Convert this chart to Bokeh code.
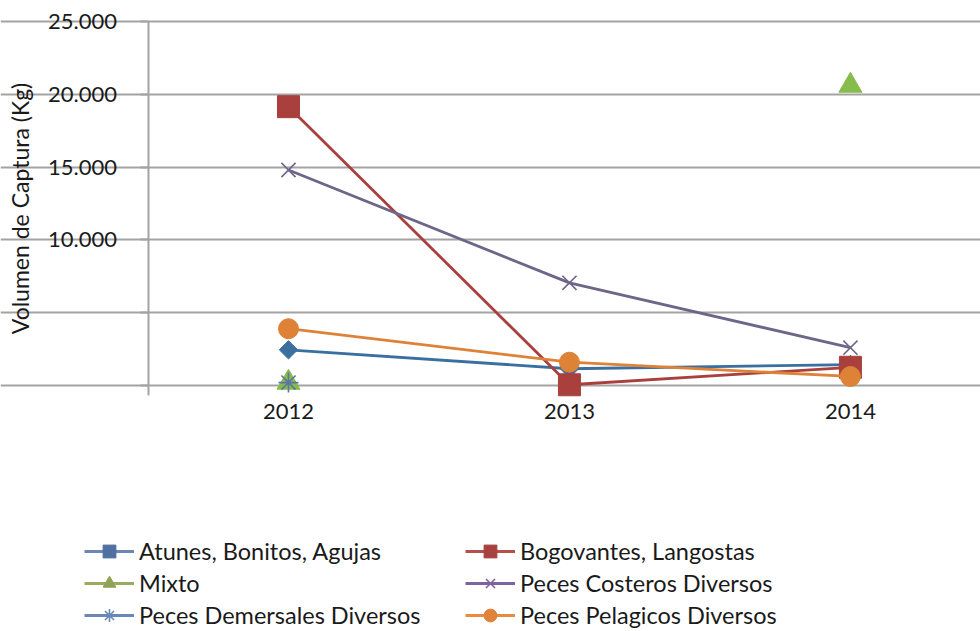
import math
from bokeh.plotting import figure
from bokeh.models import (Range1d, FixedTicker, Legend, LegendItem, LinearAxis, Grid)
from bokeh.embed import file_html
from bokeh.resources import INLINE

nan = float("nan")

# ---- data ----
years = [2012, 2013, 2014]
year_labels = ["2012", "2013", "2014"]
atunes = [2450, 1150, 1440]
bogovantes = [19150, 50, 1250]
mixto = [200, nan, 20600]
costeros = [14800, 7050, 2600]
demersales = [200, nan, nan]
pelagicos = [3900, 1600, 620]
y_ticks = [0, 5000, 10000, 15000, 20000, 25000]
y_tick_labels = ["", "", "10.000", "15.000", "20.000", "25.000"]

FONT = "Lato"
GRID = "#A3A3A3"
TXT = "#1a1a1a"

# axis geometry (data units)
X_LEFT = 2011.5          # category boundary where the value axis sits
X_END = 2014.463
Y_AXIS_BOTTOM = -690     # value axis line runs a little below 0
Y_TOP = 25000

p = figure(width=980, height=631, output_backend="svg", toolbar_location=None,
           x_range=Range1d(2010.975, X_END), y_range=Range1d(-16896, 26442),
           min_border=0, x_axis_type=None, y_axis_type=None)
p.outline_line_color = None
p.background_fill_color = "white"

# y axis
yax = LinearAxis(ticker=FixedTicker(ticks=y_ticks), fixed_location=X_LEFT,
                 bounds=(Y_AXIS_BOTTOM, Y_TOP),
                 major_label_overrides={t: l for t, l in zip(y_ticks, y_tick_labels)})
yax.axis_label = "Volumen de Captura (Kg)"
yax.axis_label_text_font = FONT
yax.axis_label_text_font_size = "23px"
yax.axis_label_text_font_style = "normal"
yax.axis_label_text_color = TXT
yax.axis_label_standoff = 12
yax.major_label_text_font = FONT
yax.major_label_text_font_size = "22px"
yax.major_label_text_color = TXT
yax.major_label_standoff = 23
yax.major_tick_out = 8
yax.major_tick_in = 0
yax.minor_tick_out = 0
yax.minor_tick_in = 0
yax.major_tick_line_color = GRID
yax.major_tick_line_width = 2
yax.axis_line_color = GRID
yax.axis_line_width = 2
p.add_layout(yax, "left")

# x axis (labels only)
xax = LinearAxis(ticker=FixedTicker(ticks=years), fixed_location=Y_AXIS_BOTTOM,
                 major_label_overrides={y: l for y, l in zip(years, year_labels)})
xax.major_label_text_font = FONT
xax.major_label_text_font_size = "22px"
xax.major_label_text_color = TXT
xax.major_label_standoff = 8
xax.major_tick_out = 0
xax.major_tick_in = 0
xax.minor_tick_out = 0
xax.minor_tick_in = 0
xax.axis_line_color = None
p.add_layout(xax, "below")

g = Grid(dimension=1, ticker=FixedTicker(ticks=y_ticks), grid_line_color=GRID,
         grid_line_width=2, bounds=(X_LEFT, X_END))
p.add_layout(g)

# name, values, chart colour, legend line colour, legend marker colour, marker, size, angle
series = [
    ("Atunes, Bonitos, Agujas", atunes, "#3A6F9F", "#6A87B6", "#4F70A0", "square", 13, math.pi / 4),
    ("Bogovantes, Langostas", bogovantes, "#A9403D", "#B5504C", "#A8423F", "square", 22, 0),
    ("Mixto", mixto, "#86BC4B", "#9AAB62", "#8FA356", "triangle", 23, 0),
    ("Peces Costeros Diversos", costeros, "#6E6689", "#7E63A2", "#7E63A2", "x", 20, 0),
    ("Peces Demersales Diversos", demersales, "#5B74A3", "#6A87B6", "#6A87B6", "asterisk", 20, 0),
    ("Peces Pelagicos Diversos", pelagicos, "#DD8236", "#E98B3E", "#E0823A", "circle", 20, 0),
]


def draw(vals, lcol, mcol, mk, sz, ang, visible=True):
    lr = p.line(years, vals, line_color=lcol, line_width=2.8, visible=visible)
    if mk in ("x", "asterisk"):
        sr = p.scatter(years, vals, marker=mk, size=sz, line_color=mcol,
                       line_width=1.6, visible=visible)
    else:
        sr = p.scatter(years, vals, marker=mk, size=sz, angle=ang,
                       fill_color=mcol, line_color=mcol, visible=visible)
    return lr, sr


leg_items = {}
for name, vals, col, lcol, mcol, mk, sz, ang in series:
    draw(vals, col, col, mk, sz, ang)
    # legend-only styling (the legend swatches use lighter tones)
    lr, sr = draw(vals, lcol, mcol, mk, sz, ang, visible=False)
    leg_items[name] = LegendItem(label=name, renderers=[lr, sr])


def make_legend(names, loc):
    lg = Legend(items=[leg_items[n] for n in names], location=loc,
                orientation="vertical", padding=0, margin=0,
                border_line_color=None, background_fill_alpha=0,
                glyph_width=50, glyph_height=32, label_height=32,
                spacing=0, label_standoff=5,
                label_text_font=FONT, label_text_font_size="23.5px",
                label_text_color=TXT)
    p.add_layout(lg)


make_legend(["Atunes, Bonitos, Agujas", "Mixto", "Peces Demersales Diversos"],
            (84, 0))
make_legend(["Bogovantes, Langostas", "Peces Costeros Diversos",
             "Peces Pelagicos Diversos"], (465, 0))

open("out.html", "w").write(file_html(p, INLINE))
